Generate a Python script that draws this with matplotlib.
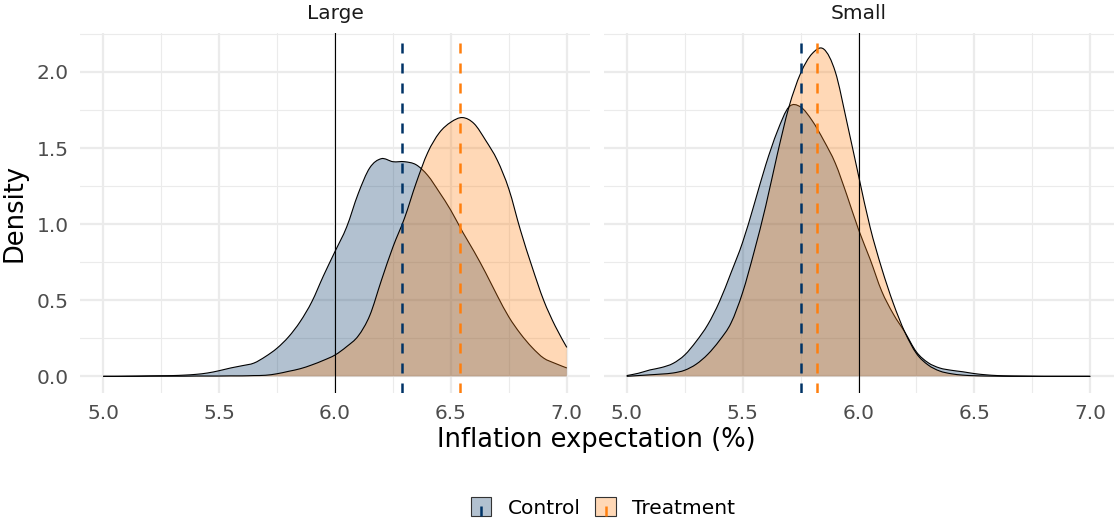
import numpy as np
import matplotlib
matplotlib.use('Agg')
import matplotlib.pyplot as plt
from matplotlib.legend_handler import HandlerBase
from matplotlib.patches import Rectangle, Patch, PathPatch
from matplotlib.lines import Line2D
from matplotlib.path import Path
from matplotlib.ticker import MultipleLocator

# 密度估计取值点（通胀预期 %），步长 0.05
x = np.round(np.arange(5.0, 7.0001, 0.05), 2)

panels = ['Large', 'Small']
groups = ['Control', 'Treatment']

large_control = [0.000, 0.000, 0.001, 0.002, 0.003, 0.004, 0.005, 0.008, 0.013, 0.022,
                 0.037, 0.055, 0.070, 0.087, 0.130, 0.185, 0.260, 0.360, 0.490, 0.660,
                 0.820, 0.980, 1.200, 1.370, 1.430, 1.410, 1.410, 1.390, 1.320, 1.210,
                 1.090, 0.950, 0.820, 0.680, 0.530, 0.390, 0.280, 0.190, 0.120, 0.085,
                 0.055]
large_treatment = [0.000, 0.000, 0.000, 0.000, 0.001, 0.001, 0.001, 0.001, 0.002, 0.002,
                   0.002, 0.003, 0.003, 0.005, 0.007, 0.017, 0.033, 0.050, 0.075, 0.105,
                   0.140, 0.195, 0.265, 0.400, 0.630, 0.850, 1.040, 1.270, 1.470, 1.600,
                   1.670, 1.700, 1.660, 1.550, 1.420, 1.230, 0.960, 0.720, 0.500, 0.330,
                   0.190]
small_control = [0.005, 0.020, 0.042, 0.058, 0.085, 0.140, 0.230, 0.340, 0.490, 0.680,
                 0.880, 1.130, 1.390, 1.610, 1.770, 1.770, 1.680, 1.550, 1.400, 1.190,
                 0.965, 0.770, 0.560, 0.410, 0.290, 0.160, 0.090, 0.055, 0.040, 0.030,
                 0.018, 0.010, 0.005, 0.003, 0.002, 0.001, 0.000, 0.000, 0.000, 0.000,
                 0.000]
small_treatment = [0.000, 0.005, 0.010, 0.015, 0.022, 0.040, 0.080, 0.145, 0.235, 0.350,
                   0.550, 0.820, 1.120, 1.460, 1.770, 1.990, 2.120, 2.150, 2.000, 1.670,
                   1.320, 0.980, 0.710, 0.480, 0.290, 0.150, 0.075, 0.035, 0.017, 0.008,
                   0.004, 0.002, 0.001, 0.000, 0.000, 0.000, 0.000, 0.000, 0.000, 0.000,
                   0.000]

# 各组均值（虚线）及参考线
means = {'Large': [6.29, 6.54], 'Small': [5.75, 5.82]}
ref_line = 6.0

dens = {'Large': [large_control, large_treatment],
        'Small': [small_control, small_treatment]}

colors = ['#003366', '#FF7F0E']
alpha = 0.3
dash = (0, (4, 4))
dash_lw = 1.8


def smooth_path(xs, ys, closed):
    # 用 Catmull-Rom 曲线连接各密度点
    pts = np.column_stack([xs, ys]).astype(float)
    ext = np.vstack([pts[0], pts, pts[-1]])
    verts, codes = [], []
    if closed:
        verts.append((pts[0, 0], 0.0))
        codes.append(Path.MOVETO)
        verts.append(tuple(pts[0]))
        codes.append(Path.LINETO)
    else:
        verts.append(tuple(pts[0]))
        codes.append(Path.MOVETO)
    for k in range(len(pts) - 1):
        p0, p1, p2, p3 = ext[k], ext[k + 1], ext[k + 2], ext[k + 3]
        c1 = p1 + (p2 - p0) / 6
        c2 = p2 - (p3 - p1) / 6
        c1[1] = max(c1[1], 0)
        c2[1] = max(c2[1], 0)
        verts += [tuple(c1), tuple(c2), tuple(p2)]
        codes += [Path.CURVE4] * 3
    if closed:
        verts.append((pts[-1, 0], 0.0))
        codes.append(Path.LINETO)
        verts.append((pts[0, 0], 0.0))
        codes.append(Path.CLOSEPOLY)
    return Path(verts, codes)


class KeyHandler(HandlerBase):
    def __init__(self, color):
        super().__init__()
        self.color = color

    def create_artists(self, legend, orig_handle, xdescent, ydescent,
                       width, height, fontsize, trans):
        rect = Rectangle((-xdescent, -ydescent), width, height,
                         facecolor=matplotlib.colors.to_rgba(self.color, alpha),
                         edgecolor='#333333', lw=0.8, transform=trans)
        cx = -xdescent + width / 2
        ln = Line2D([cx, cx], [-ydescent, -ydescent + height], color=self.color,
                    lw=dash_lw, linestyle=dash, transform=trans)
        return [rect, ln]


W, H = 1114, 521
fig = plt.figure(figsize=(W / 100, H / 100), dpi=100)

lefts = [80, 603.5]
pw = 510
bottom_px, top_px = 392.7, 32.7

for i, p in enumerate(panels):
    ax = fig.add_axes([lefts[i] / W, 1 - bottom_px / H, pw / W, (bottom_px - top_px) / H])
    for g in range(2):
        y = dens[p][g]
        ax.add_patch(PathPatch(smooth_path(x, y, True), facecolor=colors[g], alpha=alpha,
                               lw=0, zorder=2 + g))
        ax.add_patch(PathPatch(smooth_path(x, y, False), facecolor='none', edgecolor='black',
                               lw=0.8, zorder=2.5 + g))
    ax.axvline(ref_line, color='black', lw=0.8, zorder=5)
    for g in range(2):
        ax.axvline(means[p][g], color=colors[g], lw=dash_lw, linestyle=dash, zorder=6)

    ax.set_xlim(4.9, 7.1)
    ax.set_ylim(-0.1075, 2.2575)
    ax.xaxis.set_major_locator(MultipleLocator(0.5))
    ax.xaxis.set_minor_locator(MultipleLocator(0.25))
    ax.yaxis.set_major_locator(MultipleLocator(0.5))
    ax.yaxis.set_minor_locator(MultipleLocator(0.25))
    ax.grid(which='major', color='#EBEBEB', lw=1.6, zorder=0)
    ax.grid(which='minor', color='#EBEBEB', lw=0.8, zorder=0)
    ax.set_axisbelow(True)
    for s in ax.spines.values():
        s.set_visible(False)
    ax.tick_params(which='both', length=0, labelsize=14.5, labelcolor='#4D4D4D', pad=8)
    ax.set_xticks([5.0, 5.5, 6.0, 6.5, 7.0])
    ax.set_xticklabels(['5.0', '5.5', '6.0', '6.5', '7.0'])
    if i == 0:
        ax.set_yticks([0.0, 0.5, 1.0, 1.5, 2.0])
        ax.set_yticklabels(['0.0', '0.5', '1.0', '1.5', '2.0'])
    else:
        ax.tick_params(axis='y', labelleft=False)
    fig.text((lefts[i] + pw / 2) / W, 1 - 19 / H, p, ha='center', va='baseline',
             fontsize=14.5, color='#1A1A1A')

fig.text(596.5 / W, 1 - 440 / H, 'Inflation expectation (%)', ha='center', va='center',
         fontsize=18.5)
fig.text(15 / W, 1 - 212.7 / H, 'Density', ha='center', va='center', rotation=90,
         fontsize=18.5)

handles = [Patch(label=g) for g in groups]
fig.legend(handles, groups, loc='center', bbox_to_anchor=(603 / W, 1 - 507.5 / H),
           ncol=2, frameon=False, fontsize=14.5, handlelength=1.0, handleheight=1.05,
           handletextpad=0.8, columnspacing=0.75,
           handler_map={handles[0]: KeyHandler(colors[0]), handles[1]: KeyHandler(colors[1])})

plt.savefig('out.png', dpi=100)
